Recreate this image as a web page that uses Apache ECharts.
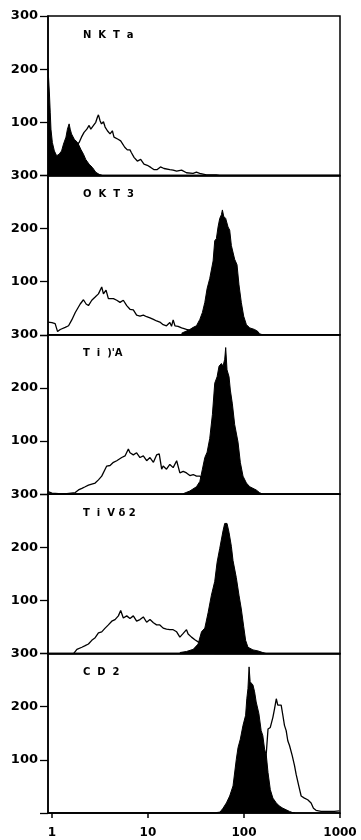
<!DOCTYPE html>
<html><head><meta charset="utf-8">
<script src="https://cdn.jsdelivr.net/npm/echarts@6/dist/echarts.min.js"></script>
<style>html,body{margin:0;padding:0;background:#fff}#c{width:361px;height:840px}</style>
</head><body><div id="c"></div>
<script>
// ---- data ----
const panelNames = ['N  K  T  a', 'O  K  T  3', 'T  i  )\'A', 'T  i  V δ 2', 'C  D  2'];
const xTickValues = [1, 10, 100, 1000];
const yTickValues = [0, 100, 200, 300];

// Panel 1: NKTa
const nktaOpen = [[1.5,30],[1.8,55],[1.92,62],[2.03,72],[2.16,81],[2.31,87],[2.44,94],[2.54,87],[2.71,94],[2.86,100],[2.98,110],[3.05,114],[3.17,103],[3.28,97],[3.44,101],[3.58,91],[3.78,84],[4.03,78],[4.26,84],[4.43,72],[4.62,75],[4.88,68],[5.20,65],[5.41,68],[5.73,53],[6.10,48],[6.50,48],[6.71,43],[7.16,34],[7.75,27],[8.40,30],[9.09,21],[9.84,19],[10.7,15],[11.5,11],[12.5,11],[13.5,16],[14.7,13],[16.9,11],[18.3,10],[19.9,8],[22.4,10],[25.2,5],[29.5,4],[32,6],[34.6,4],[40.6,1],[51.5,1],[55.7,0],[1000,0]];
const nktaFilled = [[0.91,202],[0.94,157],[0.96,119],[0.977,87],[1.01,62],[1.06,46],[1.12,37],[1.19,40],[1.26,46],[1.32,59],[1.40,72],[1.45,87],[1.51,97],[1.55,87],[1.60,78],[1.71,68],[1.85,62],[1.92,59],[2.00,49],[2.13,40],[2.25,30],[2.44,21],[2.64,15],[2.86,6],[3.10,2],[3.35,0]];

// Panel 2: OKT3
const okt3Open = [[0.91,24],[1.0,23],[1.08,21],[1.145,6],[1.22,10],[1.375,14],[1.49,17],[1.61,28],[1.75,42],[1.97,58],[2.13,66],[2.27,58],[2.40,55],[2.60,65],[2.82,71],[3.05,77],[3.30,90],[3.44,77],[3.66,84],[3.87,68],[4.03,71],[4.37,68],[4.73,65],[5.12,61],[5.54,65],[6.01,55],[6.50,48],[7.04,47],[7.62,37],[8.26,35],[8.95,37],[9.69,34],[10.5,32],[11.4,29],[12.3,26],[13.3,24],[14.4,19],[15.6,17],[16.9,23],[17.6,16],[18.3,28],[19.1,17],[20.6,16],[22.4,13],[25.2,10],[28.4,8],[32.0,6],[36,4],[42,2],[50,0],[1000,0]];
const okt3Filled = [[22.4,3],[27.3,10],[29.6,14],[32.0,17],[34.7,29],[36.9,42],[39.1,61],[41.3,87],[44.0,106],[47.7,139],[49.6,177],[51.6,181],[53.7,203],[55.9,219],[58.2,226],[59.6,235],[61.5,223],[64.5,219],[68.2,203],[71.0,197],[73.9,168],[80.0,142],[84.6,132],[88.7,94],[93.8,61],[99.3,35],[106,19],[115,13],[129,10],[140,6],[145,2],[157,0]];

// Panel 3: Ti)'A
const tiaOpen = [[0.91,5],[1.0,2],[1.04,1],[1.17,1],[1.43,1],[1.75,3],[1.89,8],[2.05,11],[2.22,14],[2.40,17],[2.60,19],[2.82,21],[3.05,27],[3.30,34],[3.58,47],[3.72,53],[4.03,54],[4.37,60],[4.73,63],[4.92,61],[5.33,69],[5.77,72],[6.25,85],[6.50,78],[7.04,74],[7.62,78],[8.26,69],[8.95,72],[9.69,63],[10.5,69],[11.4,60],[12.3,74],[13.1,76],[13.9,47],[14.4,53],[15.6,47],[16.9,56],[18.3,50],[19.9,63],[21.5,40],[23.3,43],[25.2,40],[27.3,35],[29.6,37],[32.0,34],[34.7,34],[37,28],[40,15],[45,5],[50,0],[1000,0]];
const tiaFilled = [[23.3,1],[27.3,6],[32.0,14],[34.7,24],[36.9,47],[39.1,69],[41.3,79],[44.0,105],[46.9,150],[49.6,209],[52.5,221],[55.0,241],[58.2,246],[60.5,241],[63.0,254],[64.5,276],[66.6,234],[69.9,221],[72.1,196],[75.7,170],[80.0,131],[83.2,128],[86.7,98],[91.6,60],[97.7,34],[106,21],[115,14],[124,11],[134,8],[145,3],[157,0]];

// Panel 4: TiVδ2
const tivOpen = [[0.91,0],[1.68,0],[1.75,2],[1.82,8],[2.05,12],[2.22,15],[2.40,18],[2.60,25],[2.82,30],[3.05,39],[3.30,41],[3.58,48],[3.87,54],[4.20,61],[4.54,64],[4.92,71],[5.20,81],[5.54,67],[6.01,71],[6.50,66],[7.04,71],[7.62,61],[8.26,64],[8.95,69],[9.69,59],[10.5,64],[11.4,58],[12.3,54],[13.3,54],[14.4,48],[15.6,46],[16.9,45],[18.3,45],[19.9,41],[21.5,31],[23.3,38],[25.2,45],[26.2,37],[28.4,31],[30.8,26],[33.3,22],[36.1,18],[40,12],[45,5],[50,0],[1000,0]];
const tivFilled = [[21.5,2],[25.2,4],[29.6,8],[33.3,18],[36.1,41],[39.1,48],[42.3,77],[45.8,110],[49.6,136],[52.5,172],[55.9,198],[58.2,195],[60.5,231],[63.0,245],[66.6,245],[69.9,228],[73.9,202],[76.9,175],[83.2,143],[88.7,110],[93.8,84],[99.3,51],[104,25],[110,12],[124,7],[140,5],[157,2],[171,0]];

// Panel 5: CD2
const cd2Open = [[0.91,0],[50,0],[60,2],[80,5],[110,10],[140,20],[160,60],[171,114],[178,158],[188,161],[200,180],[208,196],[217,215],[225,203],[234,200],[244,203],[254,184],[264,165],[275,155],[286,136],[298,127],[318,108],[336,89],[349,73],[372,51],[394,32],[426,28],[461,25],[500,19],[529,9],[563,5],[635,3],[745,3],[873,3],[985,4],[1000,4]];
const cd2Filled = [[55.9,1],[60.5,9],[65.6,19],[71.0,32],[76.9,51],[83.2,101],[86.7,123],[91.6,139],[97.7,165],[104,184],[107,215],[110,234],[113,275],[116,247],[124,241],[129,228],[134,209],[143,187],[151,155],[157,146],[164,120],[171,108],[178,76],[188,44],[200,28],[217,19],[234,13],[254,9],[275,6],[298,3],[318,1],[340,0]];

const openSeries = [nktaOpen, okt3Open, tiaOpen, tivOpen, cd2Open];
const filledSeries = [nktaFilled, okt3Filled, tiaFilled, tivFilled, cd2Filled];

// ---- chart ----
const chart = echarts.init(document.getElementById('c'), null, {renderer: 'canvas'});
const N = 5, top0 = 16, ph = 159.4, gl = 48, gr = 21;
const FONT = 'DejaVu Sans';
const grids = [], xAxes = [], yAxes = [], series = [], graphics = [];
for (let i = 0; i < N; i++) {
  const last = i === N - 1;
  grids.push({left: gl, right: gr, top: top0 + i * ph, height: ph, show: true,
    borderColor: '#000', borderWidth: 1.5, backgroundColor: 'transparent'});
  xAxes.push({type: 'log', gridIndex: i, min: 0.91, max: 1000, logBase: 10,
    axisLine: {show: true, onZero: false, lineStyle: {color: '#000', width: 1.5}},
    splitLine: {show: false}, minorTick: {show: false},
    axisTick: {show: last, inside: false, length: 5, lineStyle: {color: '#000', width: 1.5}, customValues: xTickValues},
    axisLabel: {show: last, margin: 14, color: '#000', fontFamily: FONT, fontWeight: 'bold', fontSize: 12,
      customValues: xTickValues,
      formatter: v => { const l = Math.log10(v); return Math.abs(l - Math.round(l)) < 1e-6 ? String(Math.round(v)) : ''; }}
  });
  yAxes.push({type: 'value', gridIndex: i, min: 0, max: 300, interval: 100,
    axisLine: {show: true, lineStyle: {color: '#000', width: 1.5}},
    splitLine: {show: false},
    axisTick: {show: true, inside: false, length: 8, lineStyle: {color: '#000', width: 1.3}},
    axisLabel: {margin: 10, color: '#000', fontFamily: FONT, fontWeight: 'bold', fontSize: 13,
      formatter: v => v === 0 ? '' : String(v)}
  });
  series.push({type: 'line', xAxisIndex: i, yAxisIndex: i, data: openSeries[i], symbol: 'none',
    lineStyle: {color: '#000', width: 1.3}, z: 2, animation: false});
  series.push({type: 'line', xAxisIndex: i, yAxisIndex: i, data: filledSeries[i], symbol: 'none',
    lineStyle: {color: '#000', width: 1}, areaStyle: {color: '#000', opacity: 1}, z: 3, animation: false});
  graphics.push({type: 'text', left: 83, top: top0 + i * ph + 14,
    style: {text: panelNames[i], fill: '#000', font: 'bold 10px "DejaVu Sans"'}});
}
chart.setOption({animation: false, backgroundColor: '#fff', grid: grids, xAxis: xAxes, yAxis: yAxes, series: series, graphic: graphics});
</script></body></html>
